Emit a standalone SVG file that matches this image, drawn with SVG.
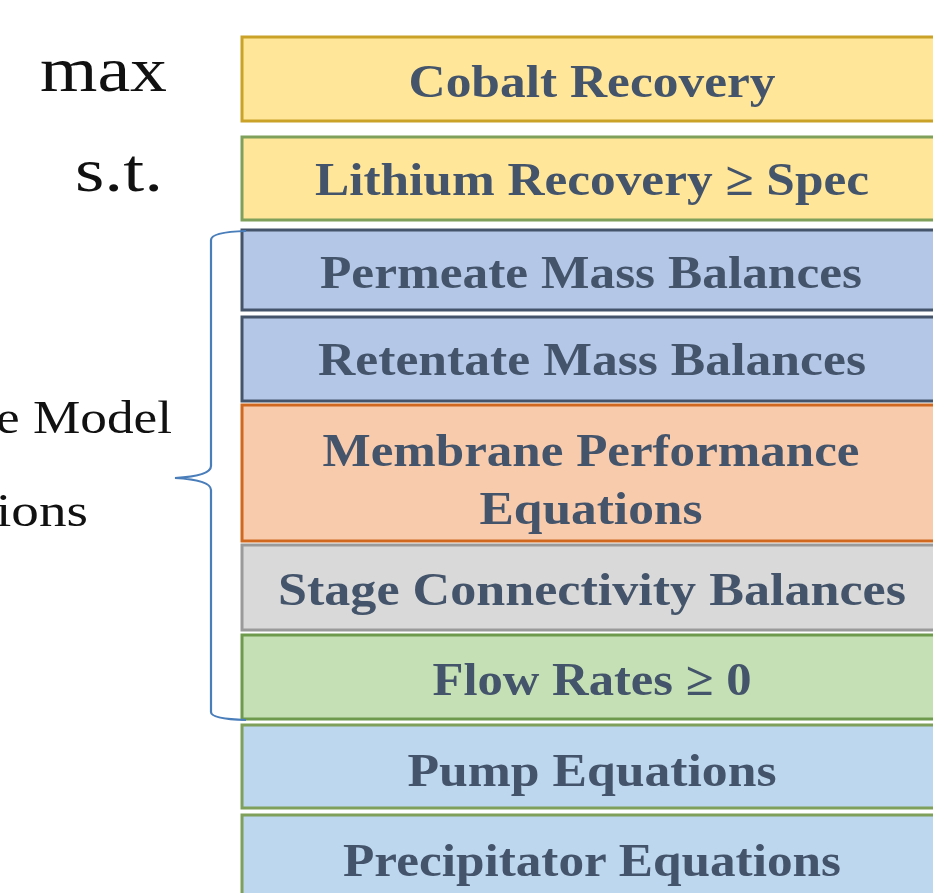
<svg xmlns="http://www.w3.org/2000/svg" width="933" height="893" viewBox="0 0 933 893">
  <style>
    .box text { font-family: "Liberation Serif", "DejaVu Serif", serif; font-weight: bold; font-size: 47px; fill: #44546a; text-anchor: middle; }
    .lbl { font-family: "Liberation Serif", "DejaVu Serif", serif; fill: #111; }
    .gold { fill: #ffe699; stroke: #c9a227; stroke-width: 3; }
    .ygreen { fill: #ffe699; stroke: #7ea05a; stroke-width: 3; }
    .blue { fill: #b4c7e7; stroke: #44546a; stroke-width: 3; }
    .orange { fill: #f8cbad; stroke: #d0691f; stroke-width: 3; }
    .grey { fill: #d9d9d9; stroke: #9a9a9a; stroke-width: 3; }
    .green { fill: #c5e0b4; stroke: #6e9a4e; stroke-width: 3; }
    .lblue { fill: #bdd7ee; stroke: #7ea05a; stroke-width: 3; }
  </style>

  <rect width="933" height="893" fill="#ffffff"/>

  <!-- side labels -->
  <g id="labels">
    <text class="lbl" x="40" y="91" font-size="64" textLength="127" lengthAdjust="spacingAndGlyphs">max</text>
    <text class="lbl" x="75" y="191" font-size="62" textLength="88" lengthAdjust="spacingAndGlyphs">s.t.</text>
    <text class="lbl" x="-4" y="433" font-size="46" textLength="176" lengthAdjust="spacingAndGlyphs">e Model</text>
    <text class="lbl" x="-4" y="526" font-size="46" textLength="92" lengthAdjust="spacingAndGlyphs">ions</text>
  </g>

  <!-- stacked constraint blocks -->
  <g id="cobalt" class="box">
    <rect class="gold" x="242" y="37" width="710" height="84"/>
    <text x="592" y="97" textLength="367" lengthAdjust="spacingAndGlyphs">Cobalt Recovery</text>
  </g>
  <g id="lithium" class="box">
    <rect class="ygreen" x="242" y="137" width="710" height="83"/>
    <text x="592" y="195" textLength="554" lengthAdjust="spacingAndGlyphs">Lithium Recovery ≥ Spec</text>
  </g>
  <g id="permeate" class="box">
    <rect class="blue" x="242" y="230" width="710" height="80"/>
    <text x="591" y="288" textLength="542" lengthAdjust="spacingAndGlyphs">Permeate Mass Balances</text>
  </g>
  <g id="retentate" class="box">
    <rect class="blue" x="242" y="317" width="710" height="84"/>
    <text x="592" y="375" textLength="548" lengthAdjust="spacingAndGlyphs">Retentate Mass Balances</text>
  </g>
  <g id="membrane" class="box">
    <rect class="orange" x="242" y="405" width="710" height="136"/>
    <text x="591" y="466" textLength="537" lengthAdjust="spacingAndGlyphs">Membrane Performance</text>
    <text x="591" y="524" textLength="223" lengthAdjust="spacingAndGlyphs">Equations</text>
  </g>
  <g id="connectivity" class="box">
    <rect class="grey" x="242" y="545" width="710" height="85"/>
    <text x="592" y="605" textLength="628" lengthAdjust="spacingAndGlyphs">Stage Connectivity Balances</text>
  </g>
  <g id="flowrates" class="box">
    <rect class="green" x="242" y="635" width="710" height="84"/>
    <text x="592" y="695" textLength="319" lengthAdjust="spacingAndGlyphs">Flow Rates ≥ 0</text>
  </g>
  <g id="pump" class="box">
    <rect class="lblue" x="242" y="725" width="710" height="83"/>
    <text x="592" y="786" textLength="369" lengthAdjust="spacingAndGlyphs">Pump Equations</text>
  </g>
  <g id="precipitator" class="box">
    <rect class="lblue" x="242" y="815" width="710" height="90"/>
    <text x="592" y="876" textLength="498" lengthAdjust="spacingAndGlyphs">Precipitator Equations</text>
  </g>

  <!-- curly brace grouping the membrane model constraints -->
  <g id="connectors">
    <path d="M246,231 Q211,232 211,240 L211,466 Q211,476 175,478 Q211,480 211,490 L211,712 Q211,719 246,720" fill="none" stroke="#4a7ebb" stroke-width="2.2"/>
  </g>
</svg>
